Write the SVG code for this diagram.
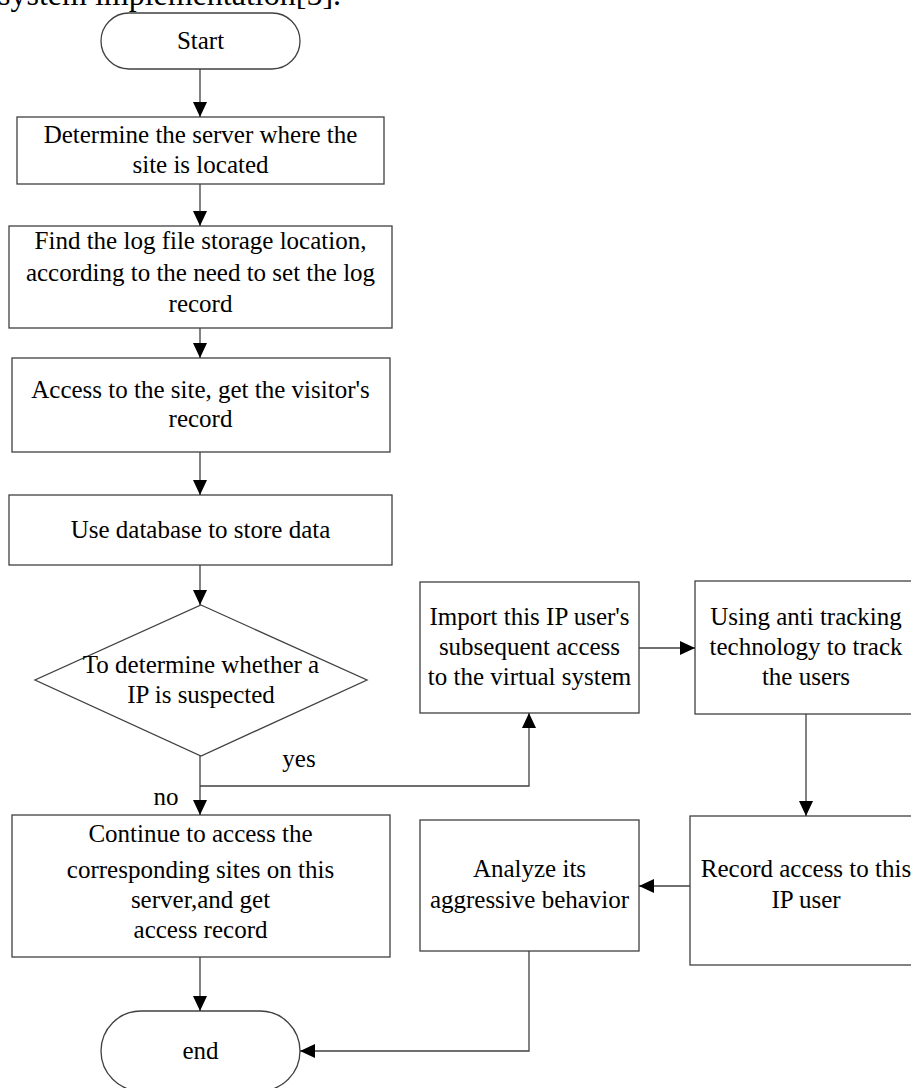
<svg xmlns="http://www.w3.org/2000/svg" width="911" height="1088" viewBox="0 0 911 1088">
<style>
.b{fill:#fff;stroke:#404040;stroke-width:1.3}
.t{font-family:"Liberation Serif","Times New Roman",serif;font-size:25px;fill:#000;text-anchor:middle}
.c{fill:none;stroke:#404040;stroke-width:1.3}
</style>
<defs>
<marker id="a" markerWidth="15" markerHeight="14" refX="15" refY="7" orient="auto" markerUnits="userSpaceOnUse">
<path d="M0,0 L15,7 L0,14 Z" fill="#000"/>
</marker>
</defs>
<rect width="911" height="1088" fill="#fff"/>
<text x="-2" y="5" style="font-family:'Liberation Serif',serif;font-size:32px;fill:#000">system implementation[5].</text>
<g id="start"><rect class="b" x="101" y="13" width="199" height="56" rx="28"/><text class="t" x="200.5" y="49">Start</text></g>
<g id="n1"><rect class="b" x="17" y="117" width="367" height="67"/><text class="t" x="200.5" y="143">Determine the server where the</text><text class="t" x="200.5" y="173">site is located</text></g>
<g id="n2"><rect class="b" x="9" y="226" width="383" height="102"/><text class="t" x="200.5" y="249">Find the log file storage location,</text><text class="t" x="200.5" y="281">according to the need to set the log</text><text class="t" x="200.5" y="312">record</text></g>
<g id="n3"><rect class="b" x="12" y="358" width="378" height="94"/><text class="t" x="200.5" y="398">Access to the site, get the visitor's</text><text class="t" x="200.5" y="427">record</text></g>
<g id="n4"><rect class="b" x="9" y="495" width="383" height="70"/><text class="t" x="200.5" y="538">Use database to store data</text></g>
<g id="d"><polygon class="b" points="201,605 367,680 201,756 35,680"/><text class="t" x="201" y="673">To determine whether a</text><text class="t" x="201" y="703">IP is suspected</text></g>
<g id="n5"><rect class="b" x="12" y="815" width="378" height="142"/><text class="t" x="200.5" y="842">Continue to access the</text><text class="t" x="200.5" y="878">corresponding sites on this</text><text class="t" x="200.5" y="908">server,and get</text><text class="t" x="200.5" y="938">access record</text></g>
<g id="end"><rect class="b" x="101" y="1011" width="199" height="80" rx="40"/><text class="t" x="200.5" y="1059">end</text></g>
<g id="n6"><rect class="b" x="420" y="582" width="219" height="131"/><text class="t" x="529.5" y="625">Import this IP user's</text><text class="t" x="529.5" y="655">subsequent access</text><text class="t" x="529.5" y="685">to the virtual system</text></g>
<g id="n7"><rect class="b" x="695" y="581" width="222" height="133"/><text class="t" x="806" y="625">Using anti tracking</text><text class="t" x="806" y="655">technology to track</text><text class="t" x="806" y="685">the users</text></g>
<g id="n8"><rect class="b" x="690" y="816" width="232" height="149"/><text class="t" x="806" y="877">Record access to this</text><text class="t" x="806" y="908">IP user</text></g>
<g id="n9"><rect class="b" x="420" y="820" width="219" height="131"/><text class="t" x="529.5" y="877">Analyze its</text><text class="t" x="529.5" y="908">aggressive behavior</text></g>
<g id="connectors">
<path class="c" d="M200,69 V117" marker-end="url(#a)"/>
<path class="c" d="M200,184 V226" marker-end="url(#a)"/>
<path class="c" d="M200,328 V358" marker-end="url(#a)"/>
<path class="c" d="M200,452 V495" marker-end="url(#a)"/>
<path class="c" d="M200,565 V605" marker-end="url(#a)"/>
<path class="c" d="M200,756 V815" marker-end="url(#a)"/>
<path class="c" d="M200,786 H529 V713" marker-end="url(#a)"/>
<path class="c" d="M639,648 H695" marker-end="url(#a)"/>
<path class="c" d="M806,714 V816" marker-end="url(#a)"/>
<path class="c" d="M690,886 H639" marker-end="url(#a)"/>
<path class="c" d="M529,951 V1051 H300" marker-end="url(#a)"/>
<path class="c" d="M200,957 V1011" marker-end="url(#a)"/>
<text class="t" x="299" y="767">yes</text>
<text class="t" x="166" y="805">no</text>
</g>
</svg>
